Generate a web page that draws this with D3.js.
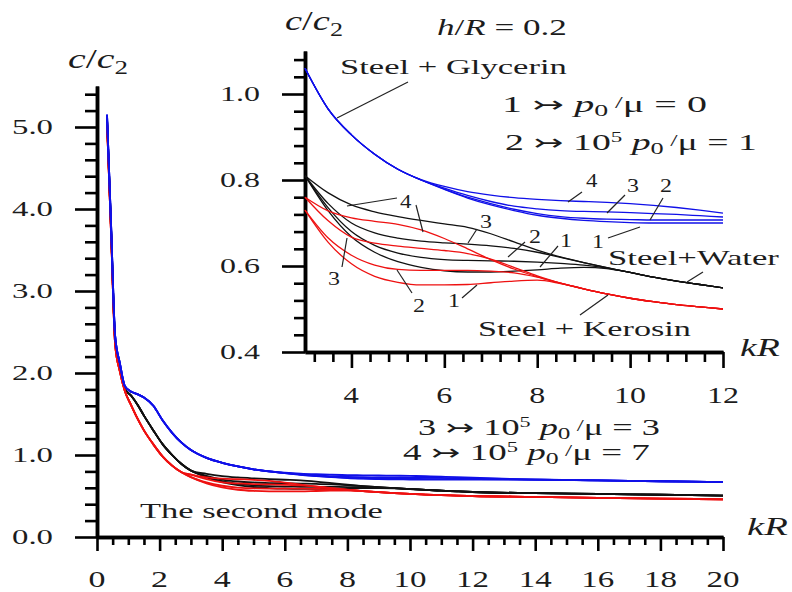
<!DOCTYPE html>
<html><head><meta charset="utf-8">
<script src="https://cdn.jsdelivr.net/npm/d3@7"></script>
<style>html,body{margin:0;padding:0;background:#fff;} svg text{font-family:"Liberation Serif","DejaVu Serif",serif;}</style>
</head><body>
<svg id="chart" width="792" height="592"></svg>
<script>
// ---------------- DATA ----------------
const kRLow   = [0.32, 0.45, 0.58, 0.73, 0.89, 1.1, 1.3, 1.5, 1.8, 2.1, 2.4, 2.7];
const kRInset = [3, 3.5, 4, 4.5, 5, 5.5, 6, 6.5, 7, 7.5, 8, 8.5, 9, 9.5, 10, 10.5, 11, 11.5, 12];
const kRHigh  = [14, 16, 18, 20];

const glycerinLow  = [5.15, 3.8, 2.45, 2.12, 1.84, 1.77, 1.74, 1.70, 1.60, 1.42, 1.27, 1.15];
const waterLow     = [5.10, 3.75, 2.40, 2.08, 1.81, 1.72, 1.61, 1.48, 1.30, 1.13, 1.00, 0.89];
const kerosinLow   = [5.05, 3.70, 2.35, 2.02, 1.78, 1.60, 1.44, 1.30, 1.13, 0.98, 0.87, 0.79];

const glycerin1 = [1.06, 0.965, 0.905, 0.86, 0.825, 0.80, 0.778, 0.758, 0.742, 0.729, 0.718, 0.711, 0.706, 0.703, 0.701, 0.700, 0.700, 0.700, 0.700];
const glycerin2 = [1.06, 0.965, 0.905, 0.86, 0.825, 0.80, 0.779, 0.760, 0.745, 0.732, 0.722, 0.715, 0.711, 0.709, 0.708, 0.707, 0.707, 0.707, 0.707];
const glycerin3 = [1.06, 0.965, 0.905, 0.86, 0.825, 0.80, 0.781, 0.764, 0.750, 0.739, 0.733, 0.729, 0.727, 0.726, 0.724, 0.722, 0.720, 0.717, 0.714];
const glycerin4 = [1.06, 0.965, 0.905, 0.86, 0.825, 0.801, 0.785, 0.773, 0.765, 0.759, 0.755, 0.752, 0.750, 0.748, 0.745, 0.741, 0.736, 0.730, 0.723];

const water1 = [0.81, 0.728, 0.668, 0.632, 0.610, 0.597, 0.589, 0.586, 0.586, 0.588, 0.591, 0.595, 0.597, 0.594, 0.585, 0.574, 0.565, 0.557, 0.549];
const water2 = [0.81, 0.735, 0.680, 0.648, 0.630, 0.620, 0.615, 0.613, 0.612, 0.611, 0.609, 0.606, 0.602, 0.595, 0.585, 0.574, 0.565, 0.557, 0.549];
const water3 = [0.81, 0.745, 0.700, 0.677, 0.665, 0.658, 0.654, 0.651, 0.647, 0.641, 0.632, 0.620, 0.608, 0.596, 0.585, 0.574, 0.565, 0.557, 0.549];
const water4 = [0.81, 0.770, 0.742, 0.726, 0.715, 0.706, 0.698, 0.690, 0.675, 0.656, 0.637, 0.621, 0.608, 0.596, 0.585, 0.574, 0.565, 0.557, 0.549];

const kerosin1 = [0.73, 0.655, 0.605, 0.576, 0.562, 0.556, 0.556, 0.557, 0.561, 0.565, 0.567, 0.559, 0.547, 0.535, 0.525, 0.517, 0.510, 0.505, 0.500];
const kerosin2 = [0.73, 0.665, 0.625, 0.602, 0.592, 0.590, 0.590, 0.590, 0.588, 0.584, 0.574, 0.560, 0.547, 0.535, 0.525, 0.517, 0.510, 0.505, 0.500];
const kerosin3 = [0.76, 0.705, 0.667, 0.653, 0.646, 0.641, 0.636, 0.629, 0.616, 0.597, 0.577, 0.560, 0.547, 0.535, 0.525, 0.517, 0.510, 0.505, 0.500];
const kerosin4 = [0.76, 0.728, 0.712, 0.704, 0.697, 0.684, 0.664, 0.640, 0.615, 0.593, 0.575, 0.560, 0.547, 0.535, 0.525, 0.517, 0.510, 0.505, 0.500];

const glycerinHigh = [0.70, 0.69, 0.68, 0.67];
const waterHigh    = [0.535, 0.525, 0.515, 0.505];
const kerosinHigh  = [0.49, 0.478, 0.468, 0.46];

const mainXTicks = [0, 2, 4, 6, 8, 10, 12, 14, 16, 18, 20];
const mainYTicks = [0, 1, 2, 3, 4, 5];
const mainYLabels = ["0.0", "1.0", "2.0", "3.0", "4.0", "5.0"];
const insetXTicks = [4, 6, 8, 10, 12];
const insetYTicks = [0.4, 0.6, 0.8, 1.0];
const insetYLabels = ["0.4", "0.6", "0.8", "1.0"];

// ---------------- BUILD ----------------
const svg = d3.select("#chart");
const SERIF = "Liberation Serif, DejaVu Serif, serif";
const TXT = "#1c1c1c";
const COLORS = {glycerin: "#1010e8", water: "#111111", kerosin: "#ee1111"};

const media = [
  {name: "water", low: waterLow, mid: [water1, water2, water3, water4], high: waterHigh},
  {name: "kerosin", low: kerosinLow, mid: [kerosin1, kerosin2, kerosin3, kerosin4], high: kerosinHigh},
  {name: "glycerin", low: glycerinLow, mid: [glycerin1, glycerin2, glycerin3, glycerin4], high: glycerinHigh}
];
function fullSeries(m, mid) {
  const pts = [];
  kRLow.forEach((k, i) => pts.push([k, m.low[i]]));
  kRInset.forEach((k, i) => pts.push([k, mid[i]]));
  kRHigh.forEach((k, i) => pts.push([k, m.high[i]]));
  return pts;
}
function insetSeries(mid) { return kRInset.map((k, i) => [k, mid[i]]); }

// scales
const xM = d3.scaleLinear().domain([0, 20]).range([97, 723]);
const yM = d3.scaleLinear().domain([0, 5.5]).range([537, 86]);
const xI = d3.scaleLinear().domain([3, 12]).range([305, 723]);
const yI = d3.scaleLinear().domain([0.4, 1.1]).range([352, 51]);

// text helper: parts -> tspans, scaled horizontally to target width
function label(x, y, w, parts, size, anchor) {
  const t = svg.append("text").attr("font-family", SERIF).attr("font-size", size).attr("fill", TXT);
  parts.forEach(p => {
    const s = t.append("tspan").text(p.t);
    if (p.i) s.attr("font-style", "italic");
    if (p.s) s.attr("font-size", p.s);
    if (p.dy) s.attr("dy", p.dy);
    if (p.f) s.attr("font-family", p.f).style("font-family", p.f);
  });
  const bw = t.node().getBBox().width || 1;
  const sx = w / bw;
  let x0 = x;
  if (anchor === "end") x0 = x - w;
  else if (anchor === "middle") x0 = x - w / 2;
  t.attr("transform", `translate(${x0},${y}) scale(${sx},1)`);
  return t;
}

// ---- axes helpers ----
function drawAxis(axis, transform, width) {
  const g = svg.append("g").attr("transform", transform).call(axis);
  g.selectAll("path.domain").attr("stroke", "#000").attr("stroke-width", width);
  g.selectAll(".tick line").attr("stroke", "#000").attr("stroke-width", 2.6);
  g.selectAll(".tick text").remove();
  return g;
}
const r1 = v => Math.round(v * 1000) / 1000;

// MAIN axes
const mainXMinor = d3.range(0, 41).map(i => r1(i * 0.5)).filter(v => !mainXTicks.includes(v));
const mainYMinor = d3.range(0, 28).map(i => r1(i * 0.2)).filter(v => Math.abs(v - Math.round(v)) > 0.01);
drawAxis(d3.axisBottom(xM).tickValues(mainXMinor).tickSize(8).tickSizeOuter(0), "translate(0,537)", 3.5);
drawAxis(d3.axisBottom(xM).tickValues(mainXTicks).tickSize(14).tickSizeOuter(0), "translate(0,537)", 3.5);
drawAxis(d3.axisLeft(yM).tickValues(mainYMinor).tickSize(12).tickSizeOuter(0), "translate(97,0)", 3.5);
drawAxis(d3.axisLeft(yM).tickValues(mainYTicks).tickSize(22).tickSizeOuter(0), "translate(97,0)", 3.5);

// INSET axes
const insetXMinor = d3.range(0, 23).map(i => r1(3.2 + i * 0.4)).filter(v => v <= 12 && !insetXTicks.some(t => Math.abs(t - v) < 0.01));
const insetYMinor = d3.range(0, 18).map(i => r1(0.44 + i * 0.04)).filter(v => v <= 1.081 && !insetYTicks.some(t => Math.abs(t - v) < 0.005));
drawAxis(d3.axisBottom(xI).tickValues(insetXMinor).tickSize(10).tickSizeOuter(0), "translate(0,352)", 3.5);
drawAxis(d3.axisBottom(xI).tickValues(insetXTicks).tickSize(16).tickSizeOuter(0), "translate(0,352)", 3.5);
drawAxis(d3.axisLeft(yI).tickValues(insetYMinor).tickSize(11).tickSizeOuter(0), "translate(305,0)", 3.5);
drawAxis(d3.axisLeft(yI).tickValues(insetYTicks).tickSize(23).tickSizeOuter(0), "translate(305,0)", 3.5);

// tick labels
mainYTicks.forEach((v, i) => label(53, yM(v) + 7, 41, [{t: mainYLabels[i]}], 22, "end"));
mainXTicks.forEach(v => label(xM(v), 587, v >= 10 ? 33 : 17, [{t: String(v)}], 24, "middle"));
insetYTicks.forEach((v, i) => label(260, yI(v) + 7, 40, [{t: insetYLabels[i]}], 22, "end"));
insetXTicks.forEach(v => label(xI(v), 403, v >= 10 ? 32 : 16, [{t: String(v)}], 23, "middle"));

// ---- curves ----
const lineMain = d3.line().x(d => xM(d[0])).y(d => yM(d[1])).curve(d3.curveMonotoneX);
const lineInset = d3.line().x(d => xI(d[0])).y(d => yI(d[1])).curve(d3.curveMonotoneX);
media.forEach(m => {
  m.mid.forEach(mid => {
    svg.append("path").attr("d", lineMain(fullSeries(m, mid)))
      .attr("fill", "none").attr("stroke", COLORS[m.name]).attr("stroke-width", 1.8);
  });
});
media.forEach(m => {
  m.mid.forEach(mid => {
    svg.append("path").attr("d", lineInset(insetSeries(mid)))
      .attr("fill", "none").attr("stroke", COLORS[m.name]).attr("stroke-width", 1.3);
  });
});

// ---- annotations ----
const leaders = [
  [408, 82, 337, 118], [582, 192, 568, 202], [625, 195, 607, 213], [663, 198, 650, 220],
  [608, 238, 640, 227], [525, 242, 508, 257], [558, 246, 540, 267], [477, 229, 468, 243],
  [397, 198, 347, 206], [416, 205, 423, 232], [342, 267, 347, 238], [412, 293, 397, 270],
  [462, 298, 477, 285], [703, 272, 687, 282], [580, 315, 608, 295]
];
svg.append("g").selectAll("line").data(leaders).join("line")
  .attr("x1", d => d[0]).attr("y1", d => d[1]).attr("x2", d => d[2]).attr("y2", d => d[3])
  .attr("stroke", "#222").attr("stroke-width", 1.2);

const numLabels = [
  ["4", 586, 187], ["3", 627, 192], ["2", 660, 192], ["1", 592, 248],
  ["2", 529, 243], ["1", 560, 247], ["3", 480, 228], ["4", 400, 208],
  ["3", 328, 285], ["2", 413, 312], ["1", 448, 307]
];
numLabels.forEach(d => label(d[1], d[2], 12, [{t: d[0]}], 19));

// axis titles
label(68, 68, 60, [{t: "c", i: 1}, {t: "/"}, {t: "c", i: 1}, {t: "2", s: 19, dy: 6}], 28);
label(285, 30, 58, [{t: "c", i: 1}, {t: "/"}, {t: "c", i: 1}, {t: "2", s: 19, dy: 6}], 28);
label(747, 535, 41, [{t: "kR", i: 1}], 26);
label(740, 356, 40, [{t: "kR", i: 1}], 26);
label(437, 35, 130, [{t: "h", i: 1}, {t: "/"}, {t: "R", i: 1}, {t: " = 0.2"}], 23);

label(340, 74, 227, [{t: "Steel + Glycerin"}], 22);
label(608, 265, 172, [{t: "Steel+Water"}], 22);
label(478, 336, 213, [{t: "Steel + Kerosin"}], 22);
label(140, 518, 243, [{t: "The second mode"}], 22);

const ARW = "DejaVu Sans, sans-serif";
function pLine(x, y, w, num, hasPow, val) {
  const parts = [{t: num + " "}, {t: "↣", f: ARW, s: 22}, {t: " "}];
  if (hasPow) { parts.push({t: "10"}); parts.push({t: "5", s: 14, dy: -8}); parts.push({t: " ", dy: 8}); }
  parts.push({t: "p", i: 1});
  parts.push({t: "0", s: 16, dy: 4});
  parts.push({t: " /", s: 16, dy: -8});
  parts.push({t: "μ = " + val, dy: 4});
  return label(x, y, w, parts, 23);
}
pLine(502, 112, 205, "1", false, "0");
pLine(505, 150, 252, "2", true, "1");
pLine(418, 435, 242, "3", true, "3");
pLine(403, 460, 247, "4", true, "7");
</script>
</body></html>
